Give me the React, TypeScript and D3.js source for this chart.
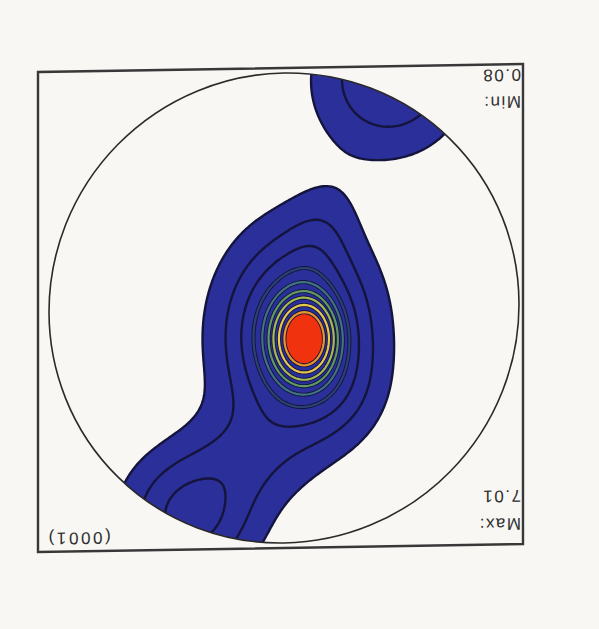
import React, { useRef, useEffect } from 'react';
import * as d3 from 'd3';

// pole figure components (normalised pole-figure coords, unit circle)
const peakU = [-0.089, -0.068, -0.05, -0.153, -0.217, 0.145, 0.4, -0.451];
const peakV = [-0.132, -0.119, -0.115, 0.323, -0.37, -0.626, -0.881, 0.97];
const peakAmp = [4.0, 1.8, 1.2, 0.38, 0.32, 0.55, 1.7, 1.5];
const peakSU = [0.077, 0.179, 0.26, 0.1, 0.149, 0.17, 0.2, 0.225];
const peakSV = [0.102, 0.247, 0.34, 0.15, 0.149, 0.15, 0.2, 0.225];
const peakAngle = [0, 0, 0, 15, 0, 0, 0, 0];

const levels = [0.5, 1.0, 1.5, 2.0, 2.5, 3.0, 3.5, 4.2, 5.0];
const lineColors = ['#111', '#17174f', '#17174f', '#2a4272', '#3f7480', '#5e9a62', '#a4bb55', '#e6c94a', '#e8962a'];

const maxLabel = ['Max:', '7.01'];
const minLabel = ['Min:', '0.08'];
const poleLabel = '(0001)';

const App = () => {
  const svgRef = useRef(null);

  useEffect(() => {
    const W = 599, H = 629;
    const cx = 284, cy = 308, R = 235;
    const svg = d3.select(svgRef.current)
      .attr('width', W)
      .attr('height', H);
    svg.selectAll('*').remove();

    svg.append('rect').attr('width', W).attr('height', H).attr('fill', '#f8f7f3');

    // whole figure is printed upside down and a little skewed
    const g = svg.append('g')
      .attr('transform', `translate(${cx},${cy}) skewY(-0.94) rotate(180) translate(${-cx},${-cy})`);

    const x = d3.scaleLinear().domain([-1, 1]).range([cx - R, cx + R]);
    const y = d3.scaleLinear().domain([-1, 1]).range([cy - R, cy + R]);

    // density grid
    const n = 240, lo = -1.08, hi = 1.08;
    const step = (hi - lo) / (n - 1);
    const values = new Float64Array(n * n);
    for (let j = 0; j < n; j++) {
      for (let i = 0; i < n; i++) {
        const u = lo + i * step, v = lo + j * step;
        let s = 0;
        peakU.forEach((pu, k) => {
          const a = (peakAngle[k] * Math.PI) / 180;
          const du = u - pu, dv = v - peakV[k];
          const p = du * Math.cos(a) + dv * Math.sin(a);
          const q = -du * Math.sin(a) + dv * Math.cos(a);
          s += peakAmp[k] * Math.exp(-0.5 * ((p / peakSU[k]) ** 2 + (q / peakSV[k]) ** 2));
        });
        values[i + j * n] = s;
      }
    }

    const contours = d3.contours().size([n, n]).thresholds(levels)(Array.from(values));
    const toPx = d3.geoTransform({
      point(gx, gy) {
        this.stream.point(x(lo + (gx - 0.5) * step), y(lo + (gy - 0.5) * step));
      },
    });
    const path = d3.geoPath(toPx);

    g.append('clipPath').attr('id', 'pf-clip')
      .append('circle').attr('cx', cx).attr('cy', cy).attr('r', R);

    const plot = g.append('g').attr('clip-path', 'url(#pf-clip)');

    plot.selectAll('path.band')
      .data(contours)
      .enter()
      .append('path')
      .attr('class', 'band')
      .attr('d', path)
      .attr('fill', (d, i) => (i === levels.length - 1 ? '#f0320f' : '#2b2f9a'));

    // dark halo under coloured contour lines
    plot.selectAll('path.halo')
      .data(contours)
      .enter()
      .append('path')
      .attr('class', 'halo')
      .attr('d', path)
      .attr('fill', 'none')
      .attr('stroke', '#14143c')
      .attr('stroke-width', (d, i) => (i >= 3 ? 4 : 2.4));

    plot.selectAll('path.line')
      .data(contours.filter((d, i) => i >= 3))
      .enter()
      .append('path')
      .attr('class', 'line')
      .attr('d', path)
      .attr('fill', 'none')
      .attr('stroke', (d, i) => lineColors[i + 3])
      .attr('stroke-width', 2.2);

    // circle and frame
    g.append('circle')
      .attr('cx', cx).attr('cy', cy).attr('r', R)
      .attr('fill', 'none')
      .attr('stroke', '#2a2a2a')
      .attr('stroke-width', 1.6);

    g.append('rect')
      .attr('x', 45).attr('y', 68)
      .attr('width', 485).attr('height', 480)
      .attr('fill', 'none')
      .attr('stroke', '#383838')
      .attr('stroke-width', 2.4);

    const font = 'Liberation Sans, Arial, sans-serif';
    const label = (t, tx, ty, anchor, ls) => g.append('text')
      .attr('x', tx).attr('y', ty)
      .attr('text-anchor', anchor)
      .attr('font-family', font)
      .attr('font-size', 17)
      .attr('letter-spacing', ls)
      .attr('fill', '#2e2e2e')
      .text(t);

    label(maxLabel[0], 47, 94, 'start', 1.5);
    label(maxLabel[1], 47, 122, 'start', 1.5);
    label(minLabel[0], 47, 516, 'start', 1.5);
    label(minLabel[1], 47, 543, 'start', 1.5);
    label(poleLabel, 522, 87, 'end', 2.6);
  }, []);

  return <svg ref={svgRef} style={{ position: 'absolute', left: 0, top: 0 }}></svg>;
};

export default App;
